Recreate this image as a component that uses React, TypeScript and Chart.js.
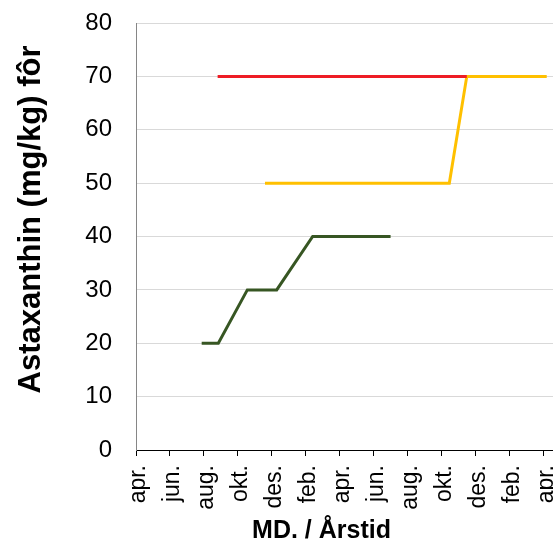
import { useEffect, useRef } from 'react';
import { Chart, registerables } from 'chart.js';

Chart.register(...registerables);

// Category / tick labels (every second month, starting April year 1)
const MONTH_LABELS = ['apr.', 'jun.', 'aug.', 'okt.', 'des.', 'feb.', 'apr.', 'jun.', 'aug.', 'okt.', 'des.', 'feb.', 'apr.'];
const Y_MIN = 0;
const Y_MAX = 80;
const Y_STEP = 10;
const X_MAX_MONTHS = 24.57;

const Y_TITLE = 'Astaxanthin (mg/kg) fôr';
const X_TITLE = 'MD. / Årstid';

// Series: x = months after 1 April (year 1), y = mg/kg
const GREEN_X = [3.87, 4.85, 6.56, 8.29, 10.41, 15.0];
const GREEN_Y = [20, 20, 30, 30, 40, 40];
const RED_X = [4.81, 19.49];
const RED_Y = [70, 70];
const YELLOW_X = [7.6, 18.46, 19.49, 24.2];
const YELLOW_Y = [50, 50, 70, 70];

const FONT = '"Liberation Sans", Arial, sans-serif';

const toPoints = (xs: number[], ys: number[]) => xs.map((x, i) => ({ x, y: ys[i] }));

const titlePlugin = {
  id: 'axisTitlesCustom',
  afterDraw(chart: any) {
    const { ctx, chartArea } = chart;
    ctx.save();
    ctx.fillStyle = '#000';
    ctx.textAlign = 'center';
    ctx.textBaseline = 'middle';
    // y title
    ctx.save();
    ctx.font = `bold 31px ${FONT}`;
    ctx.translate(chartArea.left - 105, (chartArea.top + chartArea.bottom) / 2 - 17);
    ctx.rotate(-Math.PI / 2);
    ctx.fillText(Y_TITLE, 0, 0);
    ctx.restore();
    // x title
    ctx.font = `bold 25px ${FONT}`;
    ctx.fillText(X_TITLE, (chartArea.left + chartArea.right) / 2 - 23, chartArea.bottom + 81);
    ctx.restore();
  },
};

export default function App() {
  const ref = useRef<HTMLCanvasElement | null>(null);

  useEffect(() => {
    document.body.style.margin = '0';
    if (!ref.current) return;
    Chart.defaults.font.family = FONT;
    const chart = new Chart(ref.current, {
      type: 'line',
      data: {
        datasets: [
          {
            data: toPoints(GREEN_X, GREEN_Y),
            borderColor: '#375623',
            borderWidth: 3,
            pointRadius: 0,
            tension: 0,
          },
          {
            data: toPoints(RED_X, RED_Y),
            borderColor: '#EE1C25',
            borderWidth: 3,
            pointRadius: 0,
            tension: 0,
          },
          {
            data: toPoints(YELLOW_X, YELLOW_Y),
            borderColor: '#FFC000',
            borderWidth: 3,
            pointRadius: 0,
            tension: 0,
          },
        ],
      },
      options: {
        animation: false,
        responsive: false,
        layout: { padding: { top: 23, right: 0, bottom: 0, left: 0 } },
        plugins: {
          legend: { display: false },
          tooltip: { enabled: false },
        },
        scales: {
          x: {
            type: 'linear',
            min: 0,
            max: X_MAX_MONTHS,
            afterBuildTicks: (s: any) => {
              s.ticks = MONTH_LABELS.map((_, i) => ({ value: i * 2 }));
            },
            afterFit: (s: any) => {
              s.height = 96;
              s.paddingLeft = 0;
              s.paddingRight = 0;
            },
            ticks: {
              autoSkip: false,
              maxRotation: 90,
              minRotation: 90,
              padding: 9,
              labelOffset: 3,
              color: '#000',
              font: { size: 23, family: FONT },
              callback: (_v: any, i: number) => MONTH_LABELS[i],
            },
            grid: {
              drawOnChartArea: false,
              drawTicks: true,
              tickLength: 6,
              color: '#000',
            },
            border: { color: '#000', width: 1 },
          },
          y: {
            min: Y_MIN,
            max: Y_MAX,
            afterFit: (s: any) => {
              s.width = 136;
              s.paddingTop = 0;
              s.paddingBottom = 0;
            },
            ticks: {
              stepSize: Y_STEP,
              padding: 24,
              color: '#000',
              font: { size: 24, family: FONT },
            },
            grid: {
              color: '#d9d9d9',
              drawTicks: false,
              lineWidth: 1,
            },
            border: { color: '#868686', width: 1 },
          },
        },
      },
      plugins: [titlePlugin],
    });
    return () => chart.destroy();
  }, []);

  return (
    <div style={{ width: 553, height: 546 }}>
      <canvas ref={ref} width={553} height={546} style={{ width: 553, height: 546, display: 'block' }} />
    </div>
  );
}
